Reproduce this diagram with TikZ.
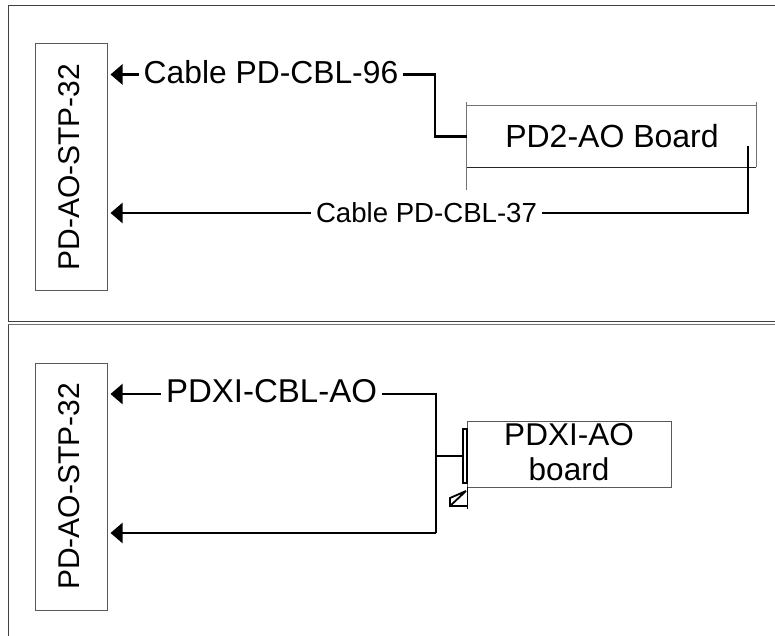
\documentclass[tikz,border=0pt]{standalone}
\usepackage{fontspec}
\setmainfont{Liberation Sans}
\usetikzlibrary{arrows.meta}
\begin{document}
\begin{tikzpicture}[x=1pt,y=-1pt,
  frameline/.style={draw=black!75, line width=1pt},
  boxline/.style={draw=black!65, line width=1pt},
  cable/.style={draw=black, line width=2.2pt},
  arrowed/.style={-{Triangle[length=12pt,width=20pt]}},
  lbl/.style={inner ysep=0pt, inner xsep=5pt},
  ]
\useasboundingbox (0,0) rectangle (775,636);

% panel frames
\coordinate (fA1) at (775,6);
\coordinate (fA2) at (8,6);
\coordinate (fA3) at (8,321);
\coordinate (fA4) at (775,321);
\draw[frameline] (fA1) -- (fA2) -- (fA3) -- (fA4);
\coordinate (fB1) at (775,324.5);
\coordinate (fB2) at (8,324.5);
\coordinate (fB3) at (8,636);
\draw[frameline, draw=black!55] (fB1) -- (fB2);
\draw[frameline] (fB2) -- (fB3);

% ===== top panel =====
\node[boxline, minimum width=72pt, minimum height=246pt, inner sep=0pt] (stpA) at (71,167) {};
\node[rotate=90, font=\fontsize{30pt}{32pt}\selectfont, inner sep=0pt] (stpAlbl) at (69.5,167) {PD-AO-STP-32};

\node[minimum width=289pt, minimum height=61pt, inner sep=0pt] (boardA) at (611.5,136.5) {};
\draw[boxline, draw=black!55] ([yshift=4pt]boardA.north west) -- (boardA.south west) -- ++(0,23);
\draw[boxline, draw=black!55] (boardA.north west) -- (boardA.north east);
\draw[boxline, draw=black!55] ([yshift=4pt]boardA.north east) -- (boardA.south east);
\draw[boxline, draw=black!85] (boardA.south west) -- (boardA.south east);
\node[font=\fontsize{32pt}{34pt}\selectfont, inner sep=0pt] (boardAlbl) at (612,136) {PD2-AO Board};

\node[lbl, font=\fontsize{31.8pt}{33pt}\selectfont] (lbl96) at (271,72) {Cable PD-CBL-96};
\coordinate (c96) at (435,74.5);
\draw[cable] (boardA.west) -| (c96) -- (c96 -| lbl96.east);
\draw[cable, arrowed] (lbl96.west |- c96) -- ([xshift=3pt]stpA.east |- c96);

\node[lbl, font=\fontsize{27.6pt}{29pt}\selectfont] (lbl37) at (426.5,213) {Cable PD-CBL-37};
\coordinate (c37a) at (748,146);
\coordinate (c37b) at (748,213);
\draw[cable] (c37a) -- (c37b) -- (lbl37.east);
\draw[cable, arrowed] (lbl37.west) -- ([xshift=3pt]stpA.east |- lbl37.west);

% ===== bottom panel =====
\node[boxline, minimum width=72pt, minimum height=247pt, inner sep=0pt] (stpB) at (71,486.5) {};
\node[rotate=90, font=\fontsize{30pt}{32pt}\selectfont, inner sep=0pt] (stpBlbl) at (69.5,486.5) {PD-AO-STP-32};

\node[boxline, minimum width=204pt, minimum height=66pt, inner sep=0pt] (boardB) at (569,454) {};
\node[font=\fontsize{31.5pt}{35pt}\selectfont, align=center, inner sep=0pt] (boardBlbl) at (569,452.5) {PDXI-AO\\board};

\node[draw=black, line width=1.6pt, minimum width=4.5pt, minimum height=54pt, inner sep=0pt] (conn) at (465,456) {};
\coordinate (tv1) at (467.5,487);
\coordinate (tv2) at (467.5,509);
\draw[black, line width=1.5pt] (tv1) -- (tv2);
\coordinate (tr1) at (466,491);
\coordinate (tr2) at (450,498);
\coordinate (tr3) at (450,506);
\draw[black, line width=1.8pt, line join=miter] (tr1) -- (tr2) -- (tr3) -- (467,506) (tr3) -- (tr1);

\node[lbl, font=\fontsize{33pt}{35pt}\selectfont] (lblxi) at (271.5,391) {PDXI-CBL-AO};
\coordinate (cxa) at (436,394);
\coordinate (cxb) at (436,533);
\draw[cable] (cxa -| lblxi.east) -- (cxa) -- (cxb);
\draw[cable] (cxa |- conn.west) -- (conn.west);
\draw[cable, arrowed] (lblxi.west |- cxa) -- ([xshift=3pt]stpB.east |- cxa);
\draw[cable, arrowed] (cxb) -- ([xshift=3pt]stpB.east |- cxb);
\end{tikzpicture}
\end{document}
